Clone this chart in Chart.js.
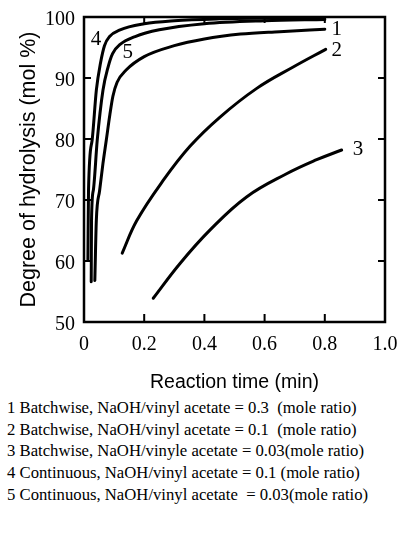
<!DOCTYPE html>
<html>
<head>
<meta charset="utf-8">
<script src="https://cdn.jsdelivr.net/npm/chart.js@4/dist/chart.umd.min.js"></script>
<style>
  html, body { margin: 0; padding: 0; background: #fff; }
  #wrap { position: relative; width: 397px; height: 538px; overflow: hidden; }
  #c { position: absolute; left: 0; top: 0; }
  #legend { position: absolute; left: 7px; top: 397px; font-family: "Liberation Serif", "DejaVu Serif", serif; font-size: 16.7px; line-height: 21.7px; color: #000; white-space: pre; letter-spacing: 0; }
</style>
</head>
<body>
<div id="wrap">
  <canvas id="c" width="397" height="395"></canvas>
  <div id="legend"></div>
</div>
<script>
// ---- data ----
const curve1X = [0.036, 0.041, 0.052, 0.063, 0.074, 0.086, 0.096, 0.11, 0.14, 0.2, 0.3, 0.4, 0.52, 0.65, 0.80];
const curve1Y = [56.8, 66.7, 71.6, 76.0, 79.8, 84.0, 87.0, 89.3, 91.3, 93.5, 95.3, 96.4, 97.2, 97.6, 98.0];

const curve2X = [0.127, 0.175, 0.263, 0.352, 0.452, 0.574, 0.695, 0.803];
const curve2Y = [61.3, 66.6, 73.2, 78.8, 83.6, 88.3, 91.8, 94.7];

const curve3X = [0.230, 0.319, 0.419, 0.540, 0.673, 0.773, 0.856];
const curve3Y = [53.9, 59.6, 65.1, 70.5, 74.3, 76.6, 78.2];

const curve4X = [0.013, 0.015, 0.027, 0.041, 0.055, 0.068, 0.085, 0.12, 0.2, 0.3, 0.45, 0.6, 0.8];
const curve4Y = [60.2, 71.6, 79.8, 88.0, 92.5, 95.3, 96.8, 97.9, 98.9, 99.4, 99.7, 99.8, 99.85];

const curve5X = [0.024, 0.025, 0.031, 0.044, 0.063, 0.08, 0.095, 0.12, 0.17, 0.25, 0.4, 0.6, 0.8];
const curve5Y = [56.6, 66.7, 71.6, 79.8, 88.0, 91.8, 94.0, 95.5, 96.8, 97.9, 98.9, 99.4, 99.6];

const curveNames = ["1", "2", "3", "4", "5"];
const curveLabelX = [0.84, 0.84, 0.91, 0.04, 0.145];
const curveLabelY = [97.9, 94.5, 78.2, 96.3, 94.2];
const smoothCurve = [false, true, true, false, false];

const xTicks = [0, 0.2, 0.4, 0.6, 0.8, 1.0];
const yTicks = [50, 60, 70, 80, 90, 100];

const xTitle = "Reaction time (min)";
const yTitle = "Degree of hydrolysis (mol %)";

const legendLines = [
  "1 Batchwise, NaOH/vinyl acetate = 0.3  (mole ratio)",
  "2 Batchwise, NaOH/vinyl acetate = 0.1  (mole ratio)",
  "3 Batchwise, NaOH/vinyle acetate = 0.03(mole ratio)",
  "4 Continuous, NaOH/vinyl acetate = 0.1 (mole ratio)",
  "5 Continuous, NaOH/vinyl acetate  = 0.03(mole ratio)"
];

document.getElementById('legend').textContent = legendLines.join("\n");

const allX = [curve1X, curve2X, curve3X, curve4X, curve5X];
const allY = [curve1Y, curve2Y, curve3Y, curve4Y, curve5Y];

const datasets = allX.map((xs, i) => ({
  label: curveNames[i],
  data: xs.map((x, j) => ({ x: x, y: allY[i][j] })),
  borderColor: '#000',
  borderWidth: 3,
  pointRadius: 0,
  showLine: true,
  fill: false,
  tension: 0.4,
  cubicInterpolationMode: smoothCurve[i] ? 'default' : 'monotone',
  borderCapStyle: 'round'
}));

const framePlugin = {
  id: 'frame',
  afterDraw(chart) {
    const { ctx, chartArea: { left, right, top, bottom }, scales: { x, y } } = chart;
    ctx.save();
    ctx.strokeStyle = '#000';
    ctx.lineWidth = 2.5;
    ctx.strokeRect(left, top, right - left, bottom - top);
    ctx.lineWidth = 2;
    ctx.beginPath();
    xTicks.slice(1, -1).forEach(v => {
      const px = x.getPixelForValue(v);
      ctx.moveTo(px, bottom); ctx.lineTo(px, bottom - 8);
      ctx.moveTo(px, top); ctx.lineTo(px, top + 6);
    });
    yTicks.slice(1, -1).forEach(v => {
      const py = y.getPixelForValue(v);
      ctx.moveTo(left, py); ctx.lineTo(left + 7, py);
      ctx.moveTo(right, py); ctx.lineTo(right - 7, py);
    });
    ctx.stroke();
    ctx.fillStyle = '#000';
    ctx.font = '21px "Liberation Serif", serif';
    ctx.textAlign = 'center';
    ctx.textBaseline = 'middle';
    curveNames.forEach((n, i) => {
      ctx.fillText(n, x.getPixelForValue(curveLabelX[i]), y.getPixelForValue(curveLabelY[i]));
    });
    ctx.restore();
  }
};

new Chart(document.getElementById('c'), {
  type: 'scatter',
  data: { datasets },
  options: {
    responsive: false,
    animation: false,
    layout: { padding: { left: 0, top: 17, right: 12, bottom: 0 } },
    plugins: { legend: { display: false }, tooltip: { enabled: false } },
    scales: {
      x: {
        type: 'linear', min: 0, max: 1,
        afterBuildTicks: s => { s.ticks = xTicks.map(v => ({ value: v })); },
        afterFit: s => { s.height = 395 - 322; s.paddingLeft = 0; s.paddingRight = 0; },
        grid: { display: false, drawTicks: false },
        border: { display: false },
        ticks: {
          color: '#000', padding: 11,
          font: { family: '"Liberation Serif", serif', size: 20 },
          callback: v => (v === 0 ? '0' : v.toFixed(1))
        },
        title: {
          display: true, text: xTitle, color: '#000',
          font: { family: '"Liberation Sans", Arial, sans-serif', size: 19.5 },
          padding: { top: 0, bottom: 1 }
        }
      },
      y: {
        type: 'linear', min: 50, max: 100,
        afterBuildTicks: s => { s.ticks = yTicks.map(v => ({ value: v })); },
        afterFit: s => { s.width = 84; s.paddingTop = 0; s.paddingBottom = 0; },
        grid: { display: false, drawTicks: false },
        border: { display: false },
        ticks: {
          color: '#000', padding: 9, labelOffset: 3,
          font: { family: '"Liberation Serif", serif', size: 20 }
        },
        title: {
          display: true, text: yTitle, color: '#000',
          font: { family: '"Liberation Sans", Arial, sans-serif', size: 21.5 },
          padding: { top: 16, bottom: 0 }
        }
      }
    }
  },
  plugins: [framePlugin]
});
</script>
</body>
</html>
